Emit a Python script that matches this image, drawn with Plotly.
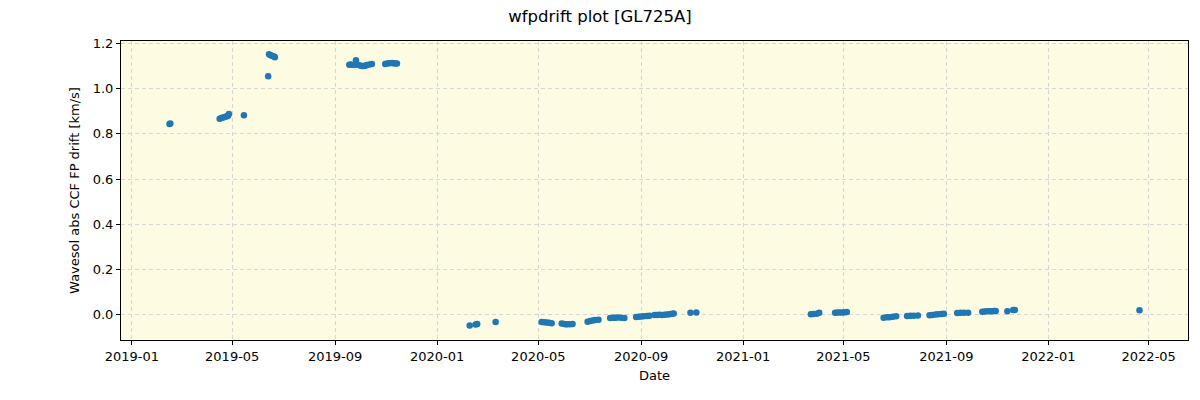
import plotly.graph_objects as go

dates = [
    "2019-02-15", "2019-02-16",
    "2019-04-16", "2019-04-18", "2019-04-20", "2019-04-22", "2019-04-24", "2019-04-26", "2019-04-27",
    "2019-05-15",
    "2019-06-13",
    "2019-06-14", "2019-06-16", "2019-06-18", "2019-06-20", "2019-06-21",
    "2019-09-18", "2019-09-20", "2019-09-23", "2019-09-26", "2019-09-28",
    "2019-10-01", "2019-10-03", "2019-10-05", "2019-10-07", "2019-10-09", "2019-10-12", "2019-10-15",
    "2019-10-31", "2019-11-02", "2019-11-05", "2019-11-08", "2019-11-10", "2019-11-12", "2019-11-14",
    "2020-02-09", "2020-02-16", "2020-02-18",
    "2020-03-11",
    "2020-05-05", "2020-05-08", "2020-05-11", "2020-05-14", "2020-05-17",
    "2020-05-29", "2020-06-01", "2020-06-03", "2020-06-05", "2020-06-08", "2020-06-11",
    "2020-06-29", "2020-07-02", "2020-07-05", "2020-07-08", "2020-07-12",
    "2020-07-26", "2020-07-29", "2020-08-01", "2020-08-04", "2020-08-08", "2020-08-12",
    "2020-08-26", "2020-08-29", "2020-09-01", "2020-09-04", "2020-09-08", "2020-09-11",
    "2020-09-17", "2020-09-20", "2020-09-23", "2020-09-26", "2020-09-29", "2020-10-02", "2020-10-05", "2020-10-08", "2020-10-10",
    "2020-10-30", "2020-11-06",
    "2021-03-23", "2021-03-26", "2021-03-30", "2021-04-02",
    "2021-04-21", "2021-04-24", "2021-04-27", "2021-04-30", "2021-05-03", "2021-05-05",
    "2021-06-18", "2021-06-22", "2021-06-25", "2021-06-29", "2021-07-03",
    "2021-07-16", "2021-07-20", "2021-07-24", "2021-07-29",
    "2021-08-12", "2021-08-15", "2021-08-19", "2021-08-22", "2021-08-26", "2021-08-29",
    "2021-09-14", "2021-09-18", "2021-09-22", "2021-09-27",
    "2021-10-14", "2021-10-17", "2021-10-20", "2021-10-23", "2021-10-26", "2021-10-28", "2021-10-30",
    "2021-11-13", "2021-11-20", "2021-11-22",
    "2022-04-20",
]

drift = [
    0.843, 0.845,
    0.866, 0.870, 0.872, 0.874, 0.876, 0.880, 0.888,
    0.882,
    1.054,
    1.151, 1.147, 1.144, 1.141, 1.138,
    1.105, 1.106, 1.104, 1.125, 1.105,
    1.102, 1.100, 1.100, 1.101, 1.104, 1.106, 1.108,
    1.108, 1.111, 1.112, 1.113, 1.112, 1.111, 1.111,
    -0.047, -0.043, -0.040,
    -0.031,
    -0.031, -0.033, -0.034, -0.035, -0.037,
    -0.038, -0.040, -0.041, -0.041, -0.041, -0.040,
    -0.030, -0.027, -0.025, -0.023, -0.022,
    -0.014, -0.013, -0.013, -0.012, -0.013, -0.014,
    -0.009, -0.008, -0.007, -0.006, -0.005, -0.004,
    0.000, 0.000, 0.001, 0.000, 0.001, 0.002, 0.003, 0.005, 0.006,
    0.009, 0.010,
    0.003, 0.004, 0.005, 0.009,
    0.009, 0.010, 0.011, 0.011, 0.012, 0.013,
    -0.013, -0.011, -0.010, -0.008, -0.006,
    -0.005, -0.004, -0.004, -0.003,
    -0.002, 0.000, 0.002, 0.003, 0.004, 0.005,
    0.008, 0.009, 0.009, 0.009,
    0.014, 0.015, 0.016, 0.016, 0.016, 0.017, 0.017,
    0.016, 0.021, 0.022,
    0.020,
]

title_text = "wfpdrift plot [GL725A]"
x_label = "Date"
y_label = "Wavesol abs CCF FP drift [km/s]"

x_tickvals = ["2019-01-01", "2019-05-01", "2019-09-01", "2020-01-01", "2020-05-01",
              "2020-09-01", "2021-01-01", "2021-05-01", "2021-09-01", "2022-01-01", "2022-05-01"]
x_ticktext = ["2019-01", "2019-05", "2019-09", "2020-01", "2020-05",
              "2020-09", "2021-01", "2021-05", "2021-09", "2022-01", "2022-05"]
y_tickvals = [0.0, 0.2, 0.4, 0.6, 0.8, 1.0, 1.2]
y_ticktext = ["0.0", "0.2", "0.4", "0.6", "0.8", "1.0", "1.2"]

fig = go.Figure()
fig.add_trace(go.Scatter(
    x=dates, y=drift, mode="markers",
    marker=dict(color="#1f77b4", size=6.5, line=dict(width=0)),
    showlegend=False,
))

axis_common = dict(
    showline=True, linecolor="black", linewidth=1, mirror=True,
    ticks="outside", ticklen=4, tickcolor="black",
    showgrid=True, gridcolor="#d6d6d6", griddash="4px,3px", gridwidth=1,
    zeroline=False,
    tickfont=dict(family="DejaVu Sans", size=13, color="black"),
)

fig.update_layout(
    width=1200, height=400,
    margin=dict(l=121, r=12, t=41, b=60),
    paper_bgcolor="white",
    plot_bgcolor="#fdfbe2",
    font=dict(family="DejaVu Sans", size=13, color="black"),
    title=dict(text=title_text, x=0.5, xanchor="center", y=0.96, yanchor="middle",
               font=dict(family="DejaVu Sans", size=16.5, color="black")),
    xaxis=dict(
        range=["2018-12-19", "2022-06-17"],
        tickvals=x_tickvals, ticktext=x_ticktext,
        title=dict(text=x_label, font=dict(family="DejaVu Sans", size=13), standoff=8),
        **axis_common,
    ),
    yaxis=dict(
        range=[-0.111, 1.210],
        tickvals=y_tickvals, ticktext=y_ticktext,
        title=dict(text=y_label, font=dict(family="DejaVu Sans", size=13), standoff=10),
        **axis_common,
    ),
)

fig.write_html("out.html")
